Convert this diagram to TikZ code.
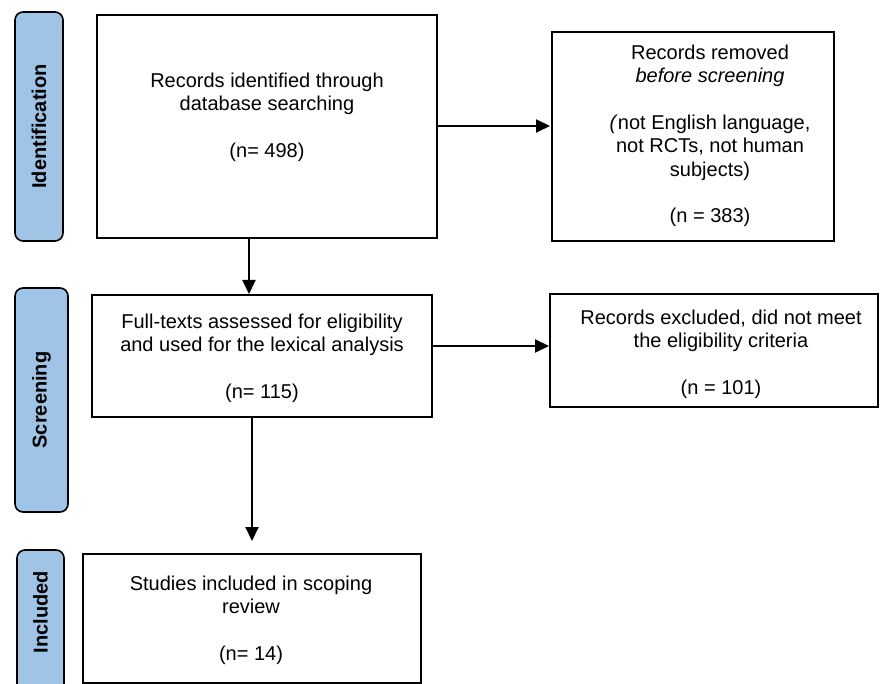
\documentclass[tikz,border=0pt]{standalone}
\usepackage{fontspec}
\setmainfont{Liberation Sans}
\usetikzlibrary{arrows.meta}
\definecolor{phase}{RGB}{160,196,230}
\tikzset{
  box/.style={draw=black, line width=2pt, rectangle, inner sep=0pt},
  phasebox/.style={draw=black, line width=1.6pt, fill=phase, rounded corners=8pt, inner sep=0pt},
  phasetext/.style={rotate=90, font=\fontsize{20}{24}\selectfont\bfseries, inner sep=0pt},
  txt/.style={align=center, inner sep=0pt, font=\fontsize{20}{23.3}\selectfont},
  arr/.style={line width=2pt, -{Triangle[length=14pt,width=13pt]}}
}
\begin{document}
\begin{tikzpicture}[x=1pt,y=-1pt]
\clip (0,0) rectangle (881,684);
\fill[white] (0,0) rectangle (881,684);
% phase labels
\node[phasebox, minimum width=48pt, minimum height=229pt] (pid) at (39,126.5) {};
\node[phasetext] (tid) at (pid.center) {Identification};
\node[phasebox, minimum width=53pt, minimum height=224pt] (psc) at (41.5,400) {};
\node[phasetext] (tsc) at (psc.center) {Screening};
\node[phasebox, minimum width=47pt, minimum height=160pt] (pin) at (40.5,630) {};
\node[phasetext] (tin) at (40.5,612) {Included};
% boxes
\node[box, minimum width=340pt, minimum height=223pt] (b1) at (267,126.5) {};
\node[box, minimum width=282pt, minimum height=209pt] (rem) at (693,136.5) {};
\node[box, minimum width=340pt, minimum height=122pt] (b2) at (262,356) {};
\node[box, minimum width=328pt, minimum height=113pt] (exc) at (714,350.5) {};
\node[box, minimum width=338pt, minimum height=129pt] (b3) at (252,618.5) {};
% texts
\node[txt] (t1) at (267,117) {Records identified through\\database searching\\[23.3pt](n= 498)};
\node[txt] (trem) at (710,136) {Records removed\\\textit{before screening}\\[23.3pt]\textit{(}not English language,\\not RCTs, not human\\subjects)\\[23.3pt](n = 383)};
\node[txt] (t2) at (262,358) {Full-texts assessed for eligibility\\and used for the lexical analysis\\[23.3pt](n= 115)};
\node[txt] (texc) at (721,354) {Records excluded, did not meet\\the eligibility criteria\\[23.3pt](n = 101)};
\node[txt] (t3) at (251,620) {Studies included in scoping\\review\\[23.3pt](n= 14)};
% connectors
\coordinate (v1) at (249,0);
\coordinate (h1) at (0,126);
\coordinate (h2) at (0,346);
\draw[arr] (b1.east |- h1) -- ([xshift=-1pt]rem.west |- h1);
\draw[arr] (b1.south -| v1) -- (b2.north -| v1);
\draw[arr] (b2.east |- h2) -- (exc.west |- h2);
\draw[arr, shorten >=12pt] (b2.south -| b3.north) -- (b3.north);
\end{tikzpicture}
\end{document}
